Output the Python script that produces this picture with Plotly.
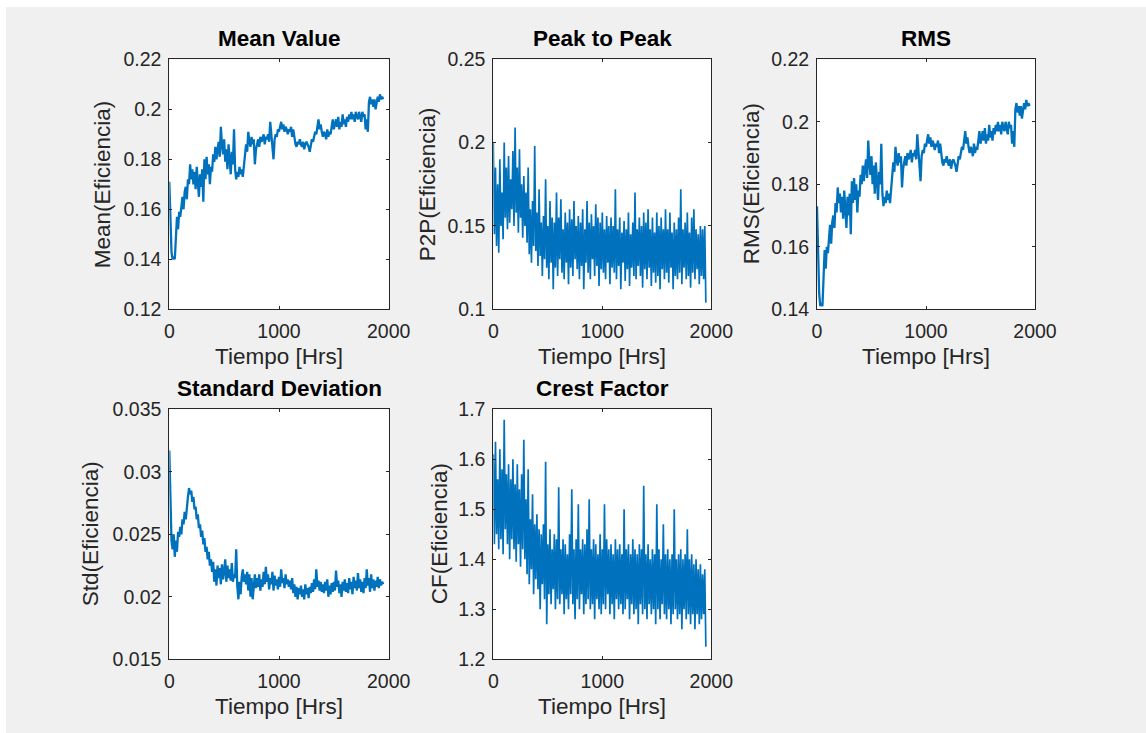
import numpy as np
import plotly.graph_objects as go

# ---------------- data ----------------
tiempo_hrs = np.arange(0, 1960, 10)  # sample times [Hrs]

mean_val = [
    0.171, 0.155, 0.143, 0.140, 0.141, 0.140, 0.148, 0.157, 0.152, 0.159,
    0.157, 0.161, 0.165, 0.160, 0.167, 0.169, 0.164, 0.172, 0.170, 0.178,
    0.172, 0.176, 0.170, 0.175, 0.168, 0.177, 0.171, 0.165, 0.174, 0.169,
    0.176, 0.163, 0.180, 0.172, 0.181, 0.174, 0.178, 0.170, 0.177, 0.175,
    0.182, 0.179, 0.185, 0.180, 0.184, 0.187, 0.181, 0.193, 0.186, 0.182,
    0.188, 0.179, 0.184, 0.176, 0.186, 0.181, 0.174, 0.183, 0.178, 0.192,
    0.176, 0.172, 0.175, 0.173, 0.177, 0.174, 0.176, 0.173, 0.178, 0.181,
    0.186, 0.183, 0.191, 0.187, 0.185, 0.189, 0.186, 0.188, 0.178, 0.184,
    0.186, 0.188, 0.185, 0.189, 0.187, 0.188, 0.190, 0.186, 0.189, 0.188,
    0.190, 0.187, 0.195, 0.189, 0.186, 0.180, 0.188, 0.190, 0.189, 0.192,
    0.191, 0.193, 0.195, 0.192, 0.194, 0.191, 0.193, 0.192, 0.190, 0.192,
    0.191, 0.193, 0.189, 0.192, 0.188, 0.186, 0.185, 0.187, 0.186, 0.188,
    0.186, 0.185, 0.187, 0.184, 0.186, 0.187, 0.186, 0.185, 0.183, 0.186,
    0.188, 0.187, 0.189, 0.191, 0.190, 0.193, 0.196, 0.192, 0.194, 0.191,
    0.189, 0.191, 0.190, 0.188, 0.192, 0.189, 0.191, 0.190, 0.193, 0.196,
    0.192, 0.194, 0.196, 0.193, 0.197, 0.192, 0.195, 0.193, 0.198, 0.194,
    0.196, 0.193, 0.197, 0.195, 0.198, 0.196, 0.199, 0.196, 0.198, 0.195,
    0.199, 0.197, 0.196, 0.199, 0.197, 0.195, 0.199, 0.197, 0.198, 0.192,
    0.196, 0.191, 0.203, 0.205, 0.202, 0.204, 0.201, 0.204, 0.200, 0.203,
    0.205, 0.203, 0.206, 0.204, 0.205, 0.204,
]

p2p_val = [
    0.200, 0.145, 0.185, 0.138, 0.175, 0.134, 0.190, 0.150, 0.170, 0.142,
    0.200, 0.155, 0.185, 0.148, 0.192, 0.152, 0.178, 0.160, 0.195, 0.150,
    0.209, 0.158, 0.185, 0.146, 0.196, 0.155, 0.175, 0.143, 0.180, 0.150,
    0.170, 0.140, 0.185, 0.133, 0.160, 0.128, 0.165, 0.138, 0.198, 0.135,
    0.158, 0.126, 0.172, 0.132, 0.152, 0.120, 0.156, 0.130, 0.178, 0.125,
    0.150, 0.118, 0.165, 0.128, 0.155, 0.112, 0.152, 0.125, 0.170, 0.120,
    0.155, 0.130, 0.166, 0.122, 0.148, 0.118, 0.158, 0.128, 0.152, 0.115,
    0.160, 0.125, 0.154, 0.120, 0.165, 0.130, 0.150, 0.124, 0.156, 0.118,
    0.152, 0.126, 0.160, 0.112, 0.148, 0.128, 0.165, 0.122, 0.152, 0.118,
    0.157, 0.130, 0.150, 0.120, 0.163, 0.126, 0.155, 0.114, 0.152, 0.124,
    0.158, 0.122, 0.148, 0.118, 0.156, 0.128, 0.150, 0.115, 0.155, 0.125,
    0.150, 0.122, 0.172, 0.118, 0.148, 0.126, 0.155, 0.112, 0.146, 0.128,
    0.153, 0.117, 0.148, 0.124, 0.158, 0.114, 0.145, 0.125, 0.152, 0.120,
    0.170, 0.118, 0.148, 0.126, 0.155, 0.120, 0.150, 0.113, 0.158, 0.124,
    0.152, 0.118, 0.160, 0.125, 0.148, 0.114, 0.155, 0.122, 0.146, 0.116,
    0.158, 0.120, 0.150, 0.112, 0.155, 0.124, 0.148, 0.118, 0.160, 0.122,
    0.148, 0.116, 0.158, 0.125, 0.146, 0.112, 0.152, 0.120, 0.148, 0.118,
    0.155, 0.122, 0.172, 0.115, 0.148, 0.125, 0.152, 0.118, 0.158, 0.120,
    0.146, 0.113, 0.155, 0.122, 0.160, 0.118, 0.148, 0.124, 0.145, 0.115,
    0.150, 0.120, 0.148, 0.118, 0.150, 0.104,
]

rms_val = [
    0.173, 0.157, 0.145, 0.141, 0.142, 0.141, 0.149, 0.159, 0.153, 0.160,
    0.158, 0.162, 0.167, 0.161, 0.168, 0.170, 0.166, 0.174, 0.171, 0.179,
    0.174, 0.177, 0.171, 0.176, 0.169, 0.178, 0.172, 0.166, 0.176, 0.170,
    0.177, 0.164, 0.181, 0.174, 0.182, 0.175, 0.180, 0.171, 0.178, 0.176,
    0.183, 0.180, 0.186, 0.181, 0.185, 0.188, 0.182, 0.194, 0.187, 0.183,
    0.189, 0.180, 0.186, 0.177, 0.187, 0.182, 0.175, 0.184, 0.180, 0.193,
    0.177, 0.173, 0.176, 0.174, 0.178, 0.175, 0.177, 0.174, 0.179, 0.182,
    0.187, 0.184, 0.192, 0.188, 0.186, 0.190, 0.187, 0.189, 0.179, 0.185,
    0.187, 0.189, 0.186, 0.190, 0.188, 0.189, 0.191, 0.187, 0.190, 0.189,
    0.191, 0.188, 0.196, 0.190, 0.187, 0.181, 0.189, 0.191, 0.190, 0.193,
    0.192, 0.194, 0.196, 0.193, 0.195, 0.192, 0.194, 0.193, 0.191, 0.193,
    0.192, 0.194, 0.190, 0.193, 0.189, 0.187, 0.186, 0.188, 0.187, 0.189,
    0.187, 0.186, 0.188, 0.185, 0.187, 0.188, 0.187, 0.186, 0.184, 0.187,
    0.189, 0.188, 0.190, 0.192, 0.191, 0.194, 0.197, 0.193, 0.195, 0.192,
    0.190, 0.192, 0.191, 0.189, 0.193, 0.190, 0.192, 0.191, 0.194, 0.197,
    0.193, 0.195, 0.197, 0.194, 0.198, 0.193, 0.196, 0.194, 0.199, 0.195,
    0.197, 0.194, 0.198, 0.196, 0.199, 0.197, 0.200, 0.197, 0.199, 0.196,
    0.200, 0.198, 0.197, 0.200, 0.198, 0.196, 0.200, 0.198, 0.199, 0.193,
    0.197, 0.192, 0.204, 0.206, 0.203, 0.205, 0.202, 0.205, 0.201, 0.204,
    0.206, 0.204, 0.207, 0.205, 0.206, 0.205,
]

std_val = [
    0.0317, 0.0290, 0.0245, 0.0238, 0.0250, 0.0232, 0.0245, 0.0236, 0.0252, 0.0248,
    0.0256, 0.0250, 0.0262, 0.0258, 0.0268, 0.0262, 0.0275, 0.0280, 0.0287, 0.0282,
    0.0285, 0.0276, 0.0280, 0.0270, 0.0272, 0.0262, 0.0266, 0.0255, 0.0258, 0.0248,
    0.0253, 0.0242, 0.0247, 0.0236, 0.0240, 0.0230, 0.0236, 0.0225, 0.0230, 0.0220,
    0.0228, 0.0212, 0.0222, 0.0209, 0.0225, 0.0215, 0.0223, 0.0210, 0.0226, 0.0214,
    0.0220, 0.0230, 0.0212, 0.0225, 0.0215, 0.0222, 0.0213, 0.0227, 0.0212, 0.0218,
    0.0215, 0.0238, 0.0208, 0.0198, 0.0212, 0.0202, 0.0216, 0.0222, 0.0212, 0.0218,
    0.0210, 0.0220, 0.0205, 0.0218, 0.0200, 0.0215, 0.0198, 0.0212, 0.0218, 0.0207,
    0.0215, 0.0208, 0.0218, 0.0205, 0.0214, 0.0208, 0.0220, 0.0210, 0.0224, 0.0212,
    0.0218, 0.0206, 0.0215, 0.0210, 0.0220, 0.0205, 0.0217, 0.0209, 0.0214, 0.0206,
    0.0216, 0.0208, 0.0222, 0.0211, 0.0215, 0.0207, 0.0218, 0.0210, 0.0214, 0.0208,
    0.0213, 0.0206, 0.0215, 0.0203, 0.0210, 0.0200, 0.0208, 0.0198, 0.0207, 0.0202,
    0.0209, 0.0200, 0.0206, 0.0198, 0.0210, 0.0202, 0.0207, 0.0199, 0.0208, 0.0203,
    0.0211, 0.0204, 0.0214, 0.0206, 0.0222, 0.0208, 0.0213, 0.0205, 0.0212, 0.0204,
    0.0210, 0.0203, 0.0212, 0.0205, 0.0214, 0.0200, 0.0209, 0.0202, 0.0211, 0.0204,
    0.0212, 0.0205, 0.0221, 0.0208, 0.0213, 0.0203, 0.0210, 0.0200, 0.0212, 0.0205,
    0.0214, 0.0204, 0.0211, 0.0203, 0.0215, 0.0206, 0.0212, 0.0202, 0.0216, 0.0207,
    0.0213, 0.0205, 0.0219, 0.0207, 0.0214, 0.0204, 0.0212, 0.0203, 0.0215, 0.0207,
    0.0222, 0.0209, 0.0215, 0.0204, 0.0218, 0.0207, 0.0214, 0.0205, 0.0213, 0.0208,
    0.0216, 0.0207, 0.0214, 0.0209, 0.0212, 0.0210,
]

cf_val = [
    1.610, 1.430, 1.635, 1.450, 1.560, 1.420, 1.620, 1.440, 1.580, 1.410,
    1.679, 1.460, 1.570, 1.430, 1.590, 1.400, 1.560, 1.440, 1.600, 1.420,
    1.550, 1.395, 1.590, 1.430, 1.540, 1.385, 1.570, 1.420, 1.639, 1.400,
    1.520, 1.370, 1.580, 1.350, 1.480, 1.380, 1.530, 1.330, 1.470, 1.360,
    1.490, 1.340, 1.460, 1.300, 1.450, 1.350, 1.470, 1.320, 1.595, 1.270,
    1.430, 1.330, 1.460, 1.310, 1.420, 1.340, 1.450, 1.300, 1.440, 1.320,
    1.544, 1.310, 1.420, 1.330, 1.440, 1.290, 1.430, 1.320, 1.410, 1.300,
    1.450, 1.330, 1.540, 1.310, 1.420, 1.280, 1.440, 1.320, 1.510, 1.300,
    1.420, 1.330, 1.440, 1.290, 1.430, 1.310, 1.460, 1.320, 1.520, 1.300,
    1.420, 1.310, 1.440, 1.280, 1.430, 1.320, 1.410, 1.300, 1.450, 1.290,
    1.420, 1.310, 1.510, 1.300, 1.440, 1.330, 1.420, 1.290, 1.430, 1.310,
    1.410, 1.280, 1.440, 1.320, 1.420, 1.300, 1.430, 1.310, 1.410, 1.290,
    1.500, 1.300, 1.420, 1.320, 1.430, 1.280, 1.410, 1.310, 1.440, 1.290,
    1.420, 1.300, 1.410, 1.270, 1.430, 1.310, 1.420, 1.290, 1.547, 1.300,
    1.410, 1.280, 1.430, 1.310, 1.400, 1.290, 1.420, 1.300, 1.410, 1.270,
    1.510, 1.300, 1.420, 1.280, 1.400, 1.310, 1.470, 1.290, 1.410, 1.280,
    1.420, 1.300, 1.400, 1.270, 1.410, 1.290, 1.500, 1.300, 1.400, 1.280,
    1.410, 1.290, 1.420, 1.260, 1.400, 1.300, 1.410, 1.280, 1.460, 1.290,
    1.400, 1.270, 1.410, 1.290, 1.390, 1.260, 1.400, 1.290, 1.380, 1.270,
    1.390, 1.280, 1.370, 1.290, 1.380, 1.225,
]

x_ticks = [0, 1000, 2000]
x_ticktext = ["0", "1000", "2000"]

panels = [
    # title, ylabel, values, y range, y ticks, y tick text
    ("Mean Value", "Mean(Eficiencia)", mean_val, [0.12, 0.22],
     [0.12, 0.14, 0.16, 0.18, 0.20, 0.22], ["0.12", "0.14", "0.16", "0.18", "0.2", "0.22"]),
    ("Peak to Peak", "P2P(Eficiencia)", p2p_val, [0.10, 0.25],
     [0.10, 0.15, 0.20, 0.25], ["0.1", "0.15", "0.2", "0.25"]),
    ("RMS", "RMS(Eficiencia)", rms_val, [0.14, 0.22],
     [0.14, 0.16, 0.18, 0.20, 0.22], ["0.14", "0.16", "0.18", "0.2", "0.22"]),
    ("Standard Deviation", "Std(Eficiencia)", std_val, [0.015, 0.035],
     [0.015, 0.020, 0.025, 0.030, 0.035], ["0.015", "0.02", "0.025", "0.03", "0.035"]),
    ("Crest Factor", "CF(Eficiencia)", cf_val, [1.2, 1.7],
     [1.2, 1.3, 1.4, 1.5, 1.6, 1.7], ["1.2", "1.3", "1.4", "1.5", "1.6", "1.7"]),
]
line_widths = [2.3, 1.7, 2.3, 2.3, 1.7]

# ---------------- layout geometry (pixels) ----------------
W, H = 1146, 733
col_px = [(169.3, 388.7), (493.3, 711.3), (817.0, 1035.0)]
row_px = [(59.3, 309.3), (409.3, 659.3)]
ylab_x = [102, 427, 751, 90, 439]

def px(x):
    return x / W

def py(y):
    return 1 - y / H

AX = "#262626"
FONT = "Liberation Sans, Arial, Helvetica, sans-serif"
BLUE = "#0072BD"

fig = go.Figure()
annotations = []
layout_axes = {}

for i, (title, ylabel, vals, yr, ytv, ytt) in enumerate(panels):
    r, c = divmod(i, 3)
    n = i + 1
    xa = "x" if n == 1 else f"x{n}"
    ya = "y" if n == 1 else f"y{n}"
    fig.add_trace(go.Scatter(
        x=tiempo_hrs, y=vals, xaxis=xa, yaxis=ya, mode="lines",
        line=dict(color=BLUE, width=line_widths[i]), showlegend=False, hoverinfo="skip"))
    x0, x1 = col_px[c]
    y0, y1 = row_px[r]
    common = dict(showline=True, linecolor=AX, linewidth=1, mirror="ticks",
                  ticks="inside", ticklen=3, tickcolor=AX, tickwidth=1,
                  showgrid=False, zeroline=False, fixedrange=True, automargin=False,
                  tickfont=dict(family=FONT, size=19.5, color=AX))
    layout_axes["xaxis" if n == 1 else f"xaxis{n}"] = dict(
        domain=[px(x0), px(x1)], range=[0, 2000], anchor=ya,
        tickvals=x_ticks, ticktext=x_ticktext, ticklabelstandoff=4, **common)
    layout_axes["yaxis" if n == 1 else f"yaxis{n}"] = dict(
        domain=[py(y1), py(y0)], range=yr, anchor=xa,
        tickvals=ytv, ticktext=ytt, ticklabelstandoff=3, **common)
    xc = (x0 + x1) / 2
    annotations.append(dict(text=f"<b>{title}</b>", x=px(xc), y=py(y0 - 21),
                            xref="paper", yref="paper", xanchor="center", yanchor="middle",
                            showarrow=False, font=dict(family=FONT, size=22.5, color="#000000")))
    annotations.append(dict(text="Tiempo [Hrs]", x=px(xc), y=py(y1 + 47),
                            xref="paper", yref="paper", xanchor="center", yanchor="middle",
                            showarrow=False, font=dict(family=FONT, size=22.5, color=AX)))
    annotations.append(dict(text=ylabel, x=px(ylab_x[i]), y=py((y0 + y1) / 2),
                            xref="paper", yref="paper", xanchor="center", yanchor="middle",
                            textangle=-90, showarrow=False,
                            font=dict(family=FONT, size=22.5, color=AX)))

fig.update_layout(
    width=W, height=H, margin=dict(l=0, r=0, t=0, b=0, pad=0, autoexpand=False),
    paper_bgcolor="#f0f0f0", plot_bgcolor="#ffffff",
    annotations=annotations,
    shapes=[
        dict(type="rect", xref="paper", yref="paper", x0=0, x1=1, y0=py(7), y1=1,
             fillcolor="#ffffff", line=dict(width=0), layer="below"),
        dict(type="rect", xref="paper", yref="paper", x0=0, x1=px(6), y0=0, y1=1,
             fillcolor="#ffffff", line=dict(width=0), layer="below"),
    ],
    **layout_axes,
)

fig.write_html("out.html")
